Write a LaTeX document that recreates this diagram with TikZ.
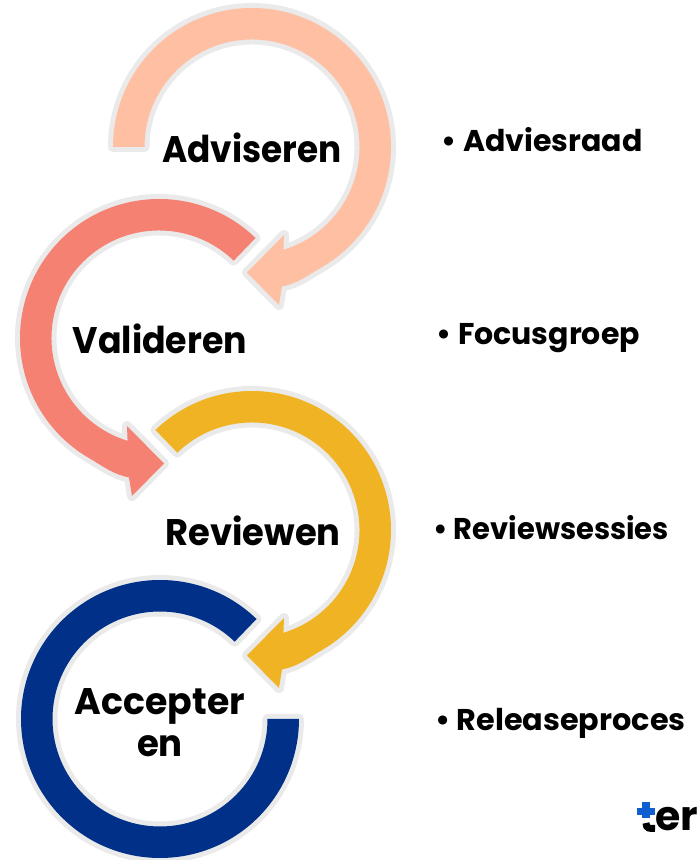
\documentclass[tikz,border=0pt]{standalone}
\usepackage{fontspec}
\setmainfont{Poppins}
\definecolor{peach}{HTML}{FFBFA3}
\definecolor{coral}{HTML}{F48172}
\definecolor{gold}{HTML}{F0B323}
\definecolor{navy}{HTML}{003087}
\definecolor{rim}{HTML}{EAEAEA}
\definecolor{logoblue}{HTML}{0F5FD0}
\tikzset{
  rimline/.style={draw=rim,line width=10pt,line join=round},
  stagetext/.style={font=\fontsize{37}{37}\selectfont\bfseries,anchor=base,inner sep=0pt,transform shape},
  itemtext/.style={font=\fontsize{30}{30}\selectfont\bfseries,anchor=base west,inner sep=0pt,transform shape}
}
% clockwise arrow: start angle #1, head at lower right of the centre
\newcommand{\ringarrow}[1]{
  (#1:139pt) arc[start angle=#1,end angle=-60,radius=139pt]
  to[out=210,in=12] (30pt,-139.5pt) -- (27pt,-158pt) -- (-5pt,-125.5pt) -- (32pt,-88pt)
  -- (-73:107.5pt) arc[start angle=-73,end angle=#1,radius=107.5pt] -- cycle}
\newcommand{\ringfull}{
  (46:139pt) arc[start angle=46,end angle=360,radius=139pt]
  -- (0:107.5pt) arc[start angle=360,end angle=46,radius=107.5pt] -- cycle}
\begin{document}
\begin{tikzpicture}[x=1pt,y=1pt]
\useasboundingbox (0,0) rectangle (697,860);
\begin{scope}
\clip (0,0) rectangle (697,860);
% arrows
\begin{scope}[shift={(252,713)}]
  \draw[rimline] \ringarrow{180};
  \fill[peach] \ringarrow{180};
\end{scope}
\begin{scope}[shift={(159,522)},xscale=-1]
  \draw[rimline] \ringarrow{134};
  \fill[coral] \ringarrow{134};
\end{scope}
\begin{scope}[shift={(252,330)}]
  \draw[rimline] \ringarrow{134};
  \fill[gold] \ringarrow{134};
\end{scope}
\begin{scope}[shift={(160,141)}]
  \draw[rimline] \ringfull;
  \fill[navy] \ringfull;
\end{scope}
% logo
\fill[logoblue] (642,42) rectangle (650,58);
\fill[logoblue] (637,45) rectangle (655,52);
\draw[line width=7pt] (646,37) .. controls (646,31) and (650,31.5) .. (655,31.5);
\node[font=\fontsize{41}{41}\selectfont\bfseries,anchor=base west,inner sep=0pt] (logo) at (655,29) {er};
\end{scope}
% stage labels
\node[stagetext,xscale=.927] (adv) at (252,697) {Adviseren};
\node[stagetext,xscale=.94] (val) at (160,506) {Valideren};
\node[stagetext,xscale=.955] (rev) at (253,314) {Reviewen};
\node[stagetext,xscale=.98] (acc1) at (160,145) {Accepter};
\node[stagetext,xscale=.96] (acc2) at (160,103) {en};
% item labels
\node[itemtext] (i1) at (441.5,708) {• Adviesraad};
\node[itemtext] (i2) at (436.5,515) {• Focusgroep};
\node[itemtext,xscale=.965] (i3) at (433,320) {• Reviewsessies};
\node[itemtext,xscale=1.01] (i4) at (435,129) {• Releaseproces};
\end{tikzpicture}
\end{document}
